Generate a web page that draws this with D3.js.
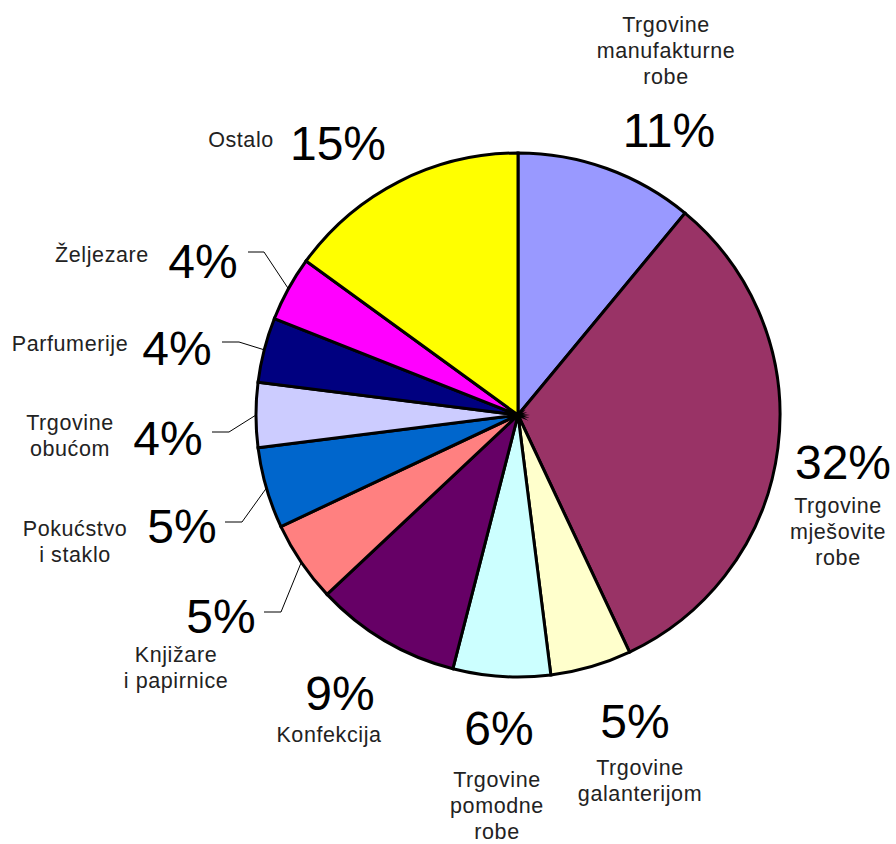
<!DOCTYPE html>
<html lang="hr">
<head>
    <meta charset="utf-8">
    <script src="https://d3js.org/d3.v7.min.js"></script>
    <style>
        body { margin: 0; background: #fff; }
        svg { display: block; }
        .pct { font-family: "Liberation Sans", Arial, sans-serif; font-size: 48px; fill: #000; }
        .cat { font-family: "Liberation Sans", Arial, sans-serif; font-size: 21.5px; letter-spacing: 0.6px; fill: #222; }
    </style>
</head>
<body>
    <svg></svg>
    <script>
        // chart data
        const categories = [
            'Trgovine\nmanufakturne\nrobe',
            'Trgovine\nmješovite\nrobe',
            'Trgovine\ngalanterijom',
            'Trgovine\npomodne\nrobe',
            'Konfekcija',
            'Knjižare\ni papirnice',
            'Pokućstvo\ni staklo',
            'Trgovine\nobućom',
            'Parfumerije',
            'Željezare',
            'Ostalo'
        ]
        const values = [11, 32, 5, 6, 9, 5, 5, 4, 4, 4, 15]
        const pctLabels = ['11%', '32%', '5%', '6%', '9%', '5%', '5%', '4%', '4%', '4%', '15%']

        const palette = ['#9999FF', '#993366', '#FFFFCC', '#CCFFFF', '#660066', '#FF8080',
                         '#0066CC', '#CCCCFF', '#000080', '#FF00FF', '#FFFF00']

        // where each label sits (pct = big number, cat = name, lead = leader line start/knee)
        const layout = [
            { pct: [669, 147], cat: [666, 32] },
            { pct: [843, 479], cat: [838, 513] },
            { pct: [635, 738], cat: [640, 775] },
            { pct: [499, 745], cat: [497, 787] },
            { pct: [340, 710], cat: [329, 742] },
            { pct: [221, 633], cat: [176, 662], lead: [264, 281, 612] },
            { pct: [182, 543], cat: [75, 536], lead: [225, 242, 522] },
            { pct: [168, 455], cat: [70, 430], lead: [212, 229, 432] },
            { pct: [177, 365], cat: [70, 351], lead: [222, 239, 342] },
            { pct: [203, 278], cat: [102, 262], lead: [248, 264, 252] },
            { pct: [338, 160], cat: [241, 147] }
        ]

        const W = 896, H = 844
        const cx = 518, cy = 415, R = 262
        const lineH = 26

        const svg = d3.select('svg')
            .attr('width', W)
            .attr('height', H)

        const color = d3.scaleOrdinal()
            .domain(d3.range(values.length))
            .range(palette)

        const pie = d3.pie()
            .sort(null)
            .value(d => d)
        const arcs = pie(values)

        const arc = d3.arc().innerRadius(0).outerRadius(R)
        const edge = d3.arc().innerRadius(R).outerRadius(R)

        const g = svg.append('g')
            .attr('transform', `translate(${cx},${cy})`)

        g.selectAll('path.slice')
            .data(arcs)
            .enter()
            .append('path')
            .attr('class', 'slice')
            .attr('d', arc)
            .attr('fill', (d, i) => color(i))
            .attr('stroke', '#000')
            .attr('stroke-width', 3)
            .attr('stroke-linejoin', 'miter')
            .attr('stroke-miterlimit', 8)

        // leader lines for the small slices on the left
        svg.append('g')
            .selectAll('polyline')
            .data(arcs.filter((d, i) => layout[i].lead))
            .enter()
            .append('polyline')
            .attr('fill', 'none')
            .attr('stroke', '#000')
            .attr('stroke-width', 1)
            .attr('points', d => {
                const [x1, x2, y] = layout[d.index].lead
                const p = edge.centroid(d)
                return `${x1},${y} ${x2},${y} ${cx + p[0]},${cy + p[1]}`
            })

        const labels = svg.append('g')

        labels.selectAll('text.pct')
            .data(arcs)
            .enter()
            .append('text')
            .attr('class', 'pct')
            .attr('text-anchor', 'middle')
            .attr('x', d => layout[d.index].pct[0])
            .attr('y', d => layout[d.index].pct[1])
            .text(d => pctLabels[d.index])

        const cat = labels.selectAll('text.cat')
            .data(arcs)
            .enter()
            .append('text')
            .attr('class', 'cat')
            .attr('text-anchor', 'middle')
            .attr('x', d => layout[d.index].cat[0])
            .attr('y', d => layout[d.index].cat[1])

        cat.selectAll('tspan')
            .data(d => categories[d.index].split('\n').map(t => ({ t, x: layout[d.index].cat[0] })))
            .enter()
            .append('tspan')
            .attr('x', d => d.x)
            .attr('dy', (d, i) => i === 0 ? 0 : lineH)
            .text(d => d.t)
    </script>
</body>
</html>
